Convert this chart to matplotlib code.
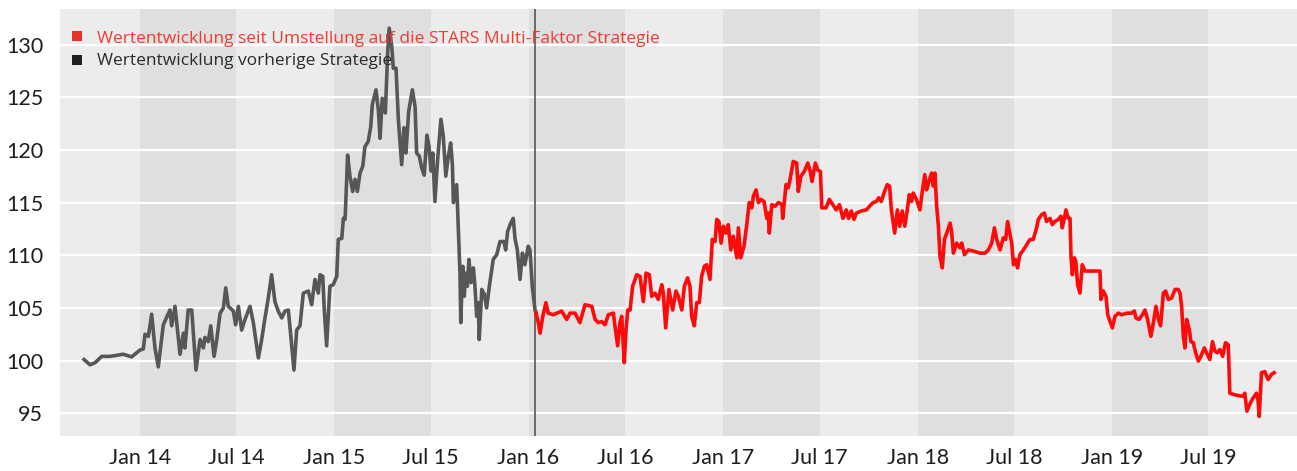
import numpy as np
import pandas as pd
import matplotlib
matplotlib.use("Agg")
import matplotlib.pyplot as plt
import matplotlib.dates as mdates

# ---------------- data (time in decimal years, value index) ----------------
prev_t = [2013.712, 2013.743, 2013.769, 2013.803, 2013.846, 2013.914, 2013.957, 2014.000,
          2014.017, 2014.026, 2014.043, 2014.060, 2014.077, 2014.094, 2014.120, 2014.154,
          2014.163, 2014.180, 2014.206, 2014.223, 2014.231, 2014.248, 2014.266, 2014.288,
          2014.309, 2014.326, 2014.334, 2014.351, 2014.364, 2014.381, 2014.395, 2014.412,
          2014.429, 2014.441, 2014.454, 2014.480, 2014.492, 2014.506, 2014.523, 2014.540,
          2014.566, 2014.583, 2014.609, 2014.626, 2014.643, 2014.660, 2014.677, 2014.694,
          2014.711, 2014.729, 2014.746, 2014.763, 2014.775, 2014.792, 2014.806, 2014.823,
          2014.840, 2014.866, 2014.883, 2014.900, 2014.917, 2014.926, 2014.940, 2014.948,
          2014.960, 2014.977, 2014.994, 2015.012, 2015.020, 2015.038, 2015.046, 2015.055,
          2015.068, 2015.080, 2015.094, 2015.106, 2015.118, 2015.132, 2015.146, 2015.157,
          2015.174, 2015.187, 2015.195, 2015.214, 2015.226, 2015.235, 2015.246, 2015.262,
          2015.274, 2015.282, 2015.295, 2015.303, 2015.317, 2015.329, 2015.346, 2015.358,
          2015.368, 2015.382, 2015.401, 2015.415, 2015.423, 2015.437, 2015.449, 2015.462,
          2015.476, 2015.487, 2015.497, 2015.506, 2015.517, 2015.531, 2015.548, 2015.560,
          2015.573, 2015.586, 2015.598, 2015.607, 2015.612, 2015.629, 2015.637, 2015.646,
          2015.650, 2015.660, 2015.668, 2015.675, 2015.684, 2015.692, 2015.703, 2015.715,
          2015.723, 2015.732, 2015.740, 2015.745, 2015.758, 2015.771, 2015.783, 2015.797,
          2015.817, 2015.835, 2015.852, 2015.872, 2015.881, 2015.891, 2015.907, 2015.920,
          2015.929, 2015.941, 2015.955, 2015.967, 2015.980, 2015.997, 2016.006, 2016.018,
          2016.032, 2016.037]
prev_v = [100.1, 99.6, 99.8, 100.4, 100.4, 100.6, 100.35, 101.0,
          101.1, 102.5, 102.3, 104.4, 101.2, 99.4, 103.4, 104.8,
          103.3, 105.15, 100.6, 102.6, 101.2, 104.8, 104.8, 99.1,
          102.0, 101.2, 102.2, 101.8, 103.3, 100.4, 102.0, 104.5,
          105.0, 106.9, 105.15, 104.7, 103.4, 105.15, 102.9, 103.9,
          105.15, 103.6, 100.25, 102.0, 104.05, 105.95, 108.15, 105.6,
          104.7, 104.05, 104.7, 104.8, 102.5, 99.1, 102.9, 103.3,
          106.4, 106.6, 105.3, 107.7, 106.4, 108.15, 108.0, 104.8,
          101.4, 107.05, 107.2, 108.0, 111.5, 111.6, 113.5, 113.4,
          119.5, 117.5, 116.05, 117.2, 116.05, 117.8, 118.45, 120.3,
          120.8, 122.2, 124.3, 125.7, 123.8, 121.1, 124.9, 123.5,
          129.2, 131.55, 129.8, 127.75, 127.75, 122.9, 118.6, 122.1,
          119.7, 123.65, 125.7, 124.1, 119.7, 119.4, 118.3, 117.6,
          121.4, 120.3, 118.0, 119.7, 115.1, 119.1, 122.9, 121.3,
          117.5, 119.4, 120.65, 118.6, 115.0, 116.7, 112.75, 108.3,
          103.6, 108.95, 106.1, 108.3, 107.05, 109.6, 107.4, 108.8,
          107.05, 104.2, 105.5, 102.0, 106.75, 106.3, 105.0, 107.05,
          109.6, 110.05, 111.3, 111.3, 110.5, 112.25, 113.05, 113.5,
          111.6, 110.5, 107.7, 110.2, 109.1, 110.85, 110.5, 107.05,
          104.8, 104.5]

new_t = [2016.037, 2016.049, 2016.058, 2016.072, 2016.088, 2016.100, 2016.126, 2016.169,
         2016.195, 2016.212, 2016.238, 2016.263, 2016.289, 2016.324, 2016.341, 2016.358,
         2016.375, 2016.392, 2016.409, 2016.435, 2016.443, 2016.457, 2016.469, 2016.478,
         2016.491, 2016.500, 2016.509, 2016.521, 2016.534, 2016.555, 2016.572, 2016.589,
         2016.603, 2016.620, 2016.632, 2016.649, 2016.666, 2016.684, 2016.692, 2016.704,
         2016.721, 2016.740, 2016.757, 2016.769, 2016.787, 2016.800, 2016.817, 2016.829,
         2016.838, 2016.851, 2016.864, 2016.877, 2016.889, 2016.903, 2016.915, 2016.932,
         2016.944, 2016.958, 2016.967, 2016.978, 2016.989, 2017.001, 2017.014, 2017.026,
         2017.039, 2017.052, 2017.070, 2017.078, 2017.090, 2017.107, 2017.121, 2017.134,
         2017.147, 2017.155, 2017.169, 2017.181, 2017.194, 2017.210, 2017.224, 2017.232,
         2017.237, 2017.250, 2017.267, 2017.284, 2017.302, 2017.306, 2017.323, 2017.335,
         2017.345, 2017.360, 2017.378, 2017.386, 2017.400, 2017.417, 2017.435, 2017.448,
         2017.457, 2017.474, 2017.486, 2017.500, 2017.507, 2017.529, 2017.546, 2017.564,
         2017.581, 2017.598, 2017.616, 2017.633, 2017.645, 2017.659, 2017.673, 2017.685,
         2017.710, 2017.736, 2017.753, 2017.771, 2017.788, 2017.800, 2017.813, 2017.827,
         2017.844, 2017.856, 2017.865, 2017.882, 2017.896, 2017.908, 2017.921, 2017.934,
         2017.946, 2017.957, 2017.969, 2017.977, 2017.994, 2018.012, 2018.024, 2018.037,
         2018.046, 2018.058, 2018.072, 2018.081, 2018.089, 2018.098, 2018.107, 2018.115,
         2018.127, 2018.138, 2018.150, 2018.167, 2018.175, 2018.184, 2018.201, 2018.218,
         2018.227, 2018.241, 2018.261, 2018.295, 2018.321, 2018.347, 2018.364, 2018.381,
         2018.395, 2018.407, 2018.424, 2018.441, 2018.453, 2018.463, 2018.475, 2018.484,
         2018.493, 2018.504, 2018.514, 2018.526, 2018.544, 2018.561, 2018.578, 2018.595,
         2018.612, 2018.621, 2018.638, 2018.652, 2018.663, 2018.681, 2018.693, 2018.706,
         2018.724, 2018.737, 2018.744, 2018.755, 2018.763, 2018.775, 2018.784, 2018.789,
         2018.796, 2018.806, 2018.814, 2018.823, 2018.835, 2018.847, 2018.861, 2018.878,
         2018.938, 2018.943, 2018.955, 2018.969, 2018.978, 2018.990, 2019.002, 2019.015,
         2019.033, 2019.050, 2019.076, 2019.101, 2019.115, 2019.123, 2019.139, 2019.156,
         2019.170, 2019.183, 2019.200, 2019.213, 2019.226, 2019.239, 2019.250, 2019.264,
         2019.276, 2019.290, 2019.307, 2019.324, 2019.341, 2019.350, 2019.358, 2019.367,
         2019.375, 2019.384, 2019.398, 2019.406, 2019.418, 2019.430, 2019.444, 2019.457,
         2019.475, 2019.486, 2019.503, 2019.517, 2019.529, 2019.541, 2019.555, 2019.569,
         2019.584, 2019.598, 2019.606, 2019.632, 2019.674, 2019.683, 2019.694, 2019.712,
         2019.726, 2019.743, 2019.751, 2019.757, 2019.769, 2019.786, 2019.803, 2019.821,
         2019.834]
new_v = [104.5, 103.6, 102.6, 104.2, 105.5, 104.5, 104.35, 104.7,
         103.9, 104.5, 104.5, 103.6, 105.3, 105.15, 103.9, 103.6,
         103.7, 103.4, 104.35, 104.5, 103.3, 101.4, 103.6, 104.2,
         99.8, 102.9, 104.8, 104.8, 107.05, 108.15, 108.0, 105.6,
         108.3, 108.15, 106.1, 106.4, 105.8, 107.2, 106.4, 103.1,
         106.75, 104.8, 106.6, 106.1, 104.8, 107.05, 107.85, 107.05,
         104.2, 103.3, 105.5, 105.5, 108.0, 108.95, 109.1, 107.7,
         111.5, 111.3, 113.4, 113.2, 111.15, 112.75, 112.1, 112.9,
         110.5, 111.8, 109.75, 112.6, 109.75, 110.85, 112.9, 115.0,
         114.5, 115.6, 116.2, 115.0, 115.3, 115.1, 113.5, 114.0,
         112.1, 114.8, 114.65, 115.0, 114.8, 113.5, 116.7, 116.4,
         117.3, 118.9, 118.75, 116.05, 117.5, 117.95, 118.75, 117.95,
         117.0, 118.75, 118.1, 117.95, 114.5, 114.5, 115.3, 114.8,
         114.3, 114.8, 113.5, 114.3, 113.5, 114.2, 113.4, 114.0,
         114.2, 114.3, 114.65, 115.0, 115.1, 115.45, 115.1, 115.9,
         116.7, 116.55, 114.3, 112.1, 114.3, 112.75, 114.2, 112.75,
         114.2, 115.75, 115.1, 115.9, 115.3, 114.3, 116.05, 117.65,
         116.2, 117.0, 117.8, 116.55, 117.8, 114.65, 112.75, 109.9,
         108.8, 111.5, 112.1, 113.05, 112.25, 110.2, 111.15, 110.7,
         111.15, 110.05, 110.5, 110.35, 110.2, 110.2, 110.5, 111.15,
         112.6, 111.5, 110.5, 111.65, 111.5, 113.2, 112.0, 111.15,
         109.1, 109.6, 108.8, 110.05, 110.5, 111.0, 111.5, 111.5,
         112.6, 113.4, 113.85, 114.0, 113.2, 113.5, 112.9, 113.2,
         113.4, 113.7, 112.6, 113.5, 114.3, 113.5, 113.5, 109.9,
         108.15, 109.75, 109.4, 107.2, 106.4, 109.1, 108.5, 108.5,
         108.5, 105.8, 106.6, 106.1, 104.35, 103.7, 103.1, 104.2,
         104.5, 104.35, 104.5, 104.5, 104.7, 104.05, 103.9, 104.35,
         104.8, 103.9, 102.3, 103.6, 105.15, 103.9, 103.3, 106.4,
         106.6, 105.8, 105.95, 106.75, 106.75, 106.4, 105.15, 102.3,
         101.2, 103.9, 102.9, 101.8, 101.7, 100.75, 99.95, 100.4,
         101.2, 100.75, 100.1, 101.8, 100.9, 100.75, 101.05, 100.4,
         101.7, 101.5, 96.9, 96.75, 96.6, 96.9, 95.2, 96.0,
         96.45, 96.9, 96.3, 94.7, 98.85, 98.95, 98.2, 98.7,
         98.85]

switch_t = 2016.034
x_range = (2013.5885, 2019.9516)
y_range = (92.87, 133.37)
y_ticks = [95, 100, 105, 110, 115, 120, 125, 130]
band_years = [2014, 2015, 2016, 2017, 2018, 2019]
labels = ["Wertentwicklung seit Umstellung auf die STARS Multi-Faktor Strategie",
          "Wertentwicklung vorherige Strategie"]

# ---------------- helpers ----------------
def to_date(y):
    y = np.asarray(y, dtype=float)
    return pd.Timestamp("2014-01-01") + pd.to_timedelta((y - 2014.0) * 365.25, unit="D")

RED = "#ff0a0a"
GREY = "#575757"

fig = plt.figure(figsize=(12.97, 4.71), dpi=100)
ax = fig.add_axes([60 / 1297, (471 - 435.7) / 471, 1237 / 1297, 426.7 / 471])
ax.set_facecolor("#ececec")

for yr in band_years:
    ax.axvspan(pd.Timestamp(f"{yr}-01-01"), pd.Timestamp(f"{yr}-07-01"),
               color="#dfdfdf", lw=0, zorder=0)

for yv in y_ticks:
    ax.axhline(yv, color="white", lw=1.6, zorder=1)

ax.axvline(to_date([switch_t])[0], color="#4a4a4a", lw=1.1, zorder=2)

ax.plot(to_date(prev_t), prev_v, color=GREY, lw=2.6, zorder=3, solid_joinstyle="round")
ax.plot(to_date(new_t), new_v, color=RED, lw=2.6, zorder=4, solid_joinstyle="round")

ax.set_xlim(to_date([x_range[0]])[0], to_date([x_range[1]])[0])
ax.set_ylim(*y_range)
ax.set_yticks(y_ticks)
ax.set_yticklabels([str(v) for v in y_ticks])

ax.xaxis.set_major_locator(mdates.MonthLocator(bymonth=[1, 7]))
def fmt(x, pos=None):
    d = mdates.num2date(x)
    return ("Jan " if d.month == 1 else "Jul ") + d.strftime("%y")
ax.xaxis.set_major_formatter(plt.FuncFormatter(fmt))

for s in ax.spines.values():
    s.set_visible(False)
ax.tick_params(axis="both", length=0, labelsize=15.5, labelcolor="#1e1e1e")
ax.tick_params(axis="y", pad=12)
ax.tick_params(axis="x", pad=9)
for lab in ax.get_xticklabels() + ax.get_yticklabels():
    lab.set_fontfamily("Lato")

# legend
ax.scatter([0.0137], [0.9367], marker="s", s=46, color="#e8302a", transform=ax.transAxes,
           zorder=6, clip_on=False, linewidths=0)
ax.scatter([0.0137], [0.8805], marker="s", s=46, color="#231f20", transform=ax.transAxes,
           zorder=6, clip_on=False, linewidths=0)
ax.text(0.0299, 0.9210, labels[0], transform=ax.transAxes, color="#ef3b33",
        fontsize=12.55, family="Open Sans", va="baseline", ha="left", zorder=6)
ax.text(0.0299, 0.8687, labels[1], transform=ax.transAxes, color="#2b2b2b",
        fontsize=12.55, family="Open Sans", va="baseline", ha="left", zorder=6)

fig.savefig("out.png", dpi=100)
